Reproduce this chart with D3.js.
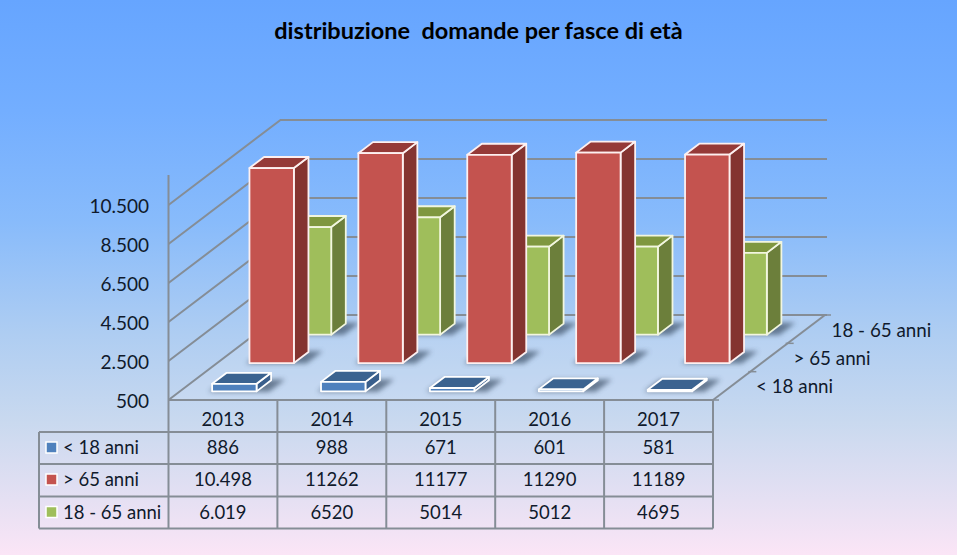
<!DOCTYPE html>
<html><head><meta charset="utf-8">
<script src="https://cdn.jsdelivr.net/npm/d3@7"></script>
<style>html,body{margin:0;padding:0;background:#fff}svg{display:block}text{font-family:Lato,"Open Sans",sans-serif;fill:#101a2c}</style>
</head><body><div id="c"></div>
<script>
const years = ["2013","2014","2015","2016","2017"];
const seriesNames = ["< 18 anni","> 65 anni","18 - 65 anni"];
const under18 = [886,988,671,601,581];
const over65 = [10498,11262,11177,11290,11189];
const adults = [6019,6520,5014,5012,4695];
const under18Labels = ["886","988","671","601","581"];
const over65Labels = ["10.498","11262","11177","11290","11189"];
const adultsLabels = ["6.019","6520","5014","5012","4695"];
const yTicks = [500,2500,4500,6500,8500,10500];
const faceColors = ["#4f81bd","#c4534f","#9fbe5b"];
const topColors = ["#3b6390","#953a38","#7f973f"];
const sideColors = ["#3a5f8c","#843430","#6c7f3b"];

const W=957,H=555;
const svg=d3.select("#c").append("svg").attr("width",W).attr("height",H);
const defs=svg.append("defs");
const g=defs.append("linearGradient").attr("id","bg").attr("x1",0).attr("y1",0).attr("x2",0).attr("y2",1);
[[0,"#66a5ff"],[.2,"#73aeff"],[.4,"#88bbfb"],[.6,"#aecdf2"],[.76,"#c9d9ef"],[.9,"#e5e0f3"],[1,"#fbe5f6"]]
  .forEach(d=>g.append("stop").attr("offset",d[0]).attr("stop-color",d[1]));
defs.append("filter").attr("id","blur").attr("x","-30%").attr("y","-60%").attr("width","160%").attr("height","220%")
  .append("feGaussianBlur").attr("stdDeviation",2.5);
svg.append("rect").attr("width",W).attr("height",H).attr("fill","url(#bg)");

const left=168.5,right=713,floorY=400,dx=112,dy=85;
const x=d3.scaleBand().domain(years).range([left,right]).paddingInner(.592).paddingOuter(.296);
const z=d3.scaleBand().domain(seriesNames).range([0,1]).paddingInner(.61).paddingOuter(.305);
const y=d3.scaleLinear().domain([500,10500]).range([floorY,205]);
const P=(px,v,zf)=>[px+zf*dx,y(v)-zf*dy];
const poly=pts=>pts.map(p=>p.join(",")).join(" ");
const gridC="#858d96";

svg.append("text").attr("x",478.5).attr("y",39).attr("text-anchor","middle")
  .attr("font-size",23.5).attr("font-weight",700).style("fill","#000").attr("xml:space","preserve")
  .text("distribuzione  domande per fasce di età");

// floor
svg.append("polygon").attr("points",poly([P(left,500,0),P(left,500,1),P(right,500,1),P(right,500,0)]))
  .attr("fill","#dbe8f6").attr("opacity",.2);
// gridlines
const grid=svg.append("g").attr("stroke",gridC).attr("stroke-width",2).attr("fill","none");
yTicks.forEach(t=>{
  grid.append("polyline").attr("points",poly([P(left,t,0),P(left,t,1),P(right+2,t,1)]));
});
grid.append("line").attr("x1",left).attr("x2",left).attr("y1",floorY).attr("y2",175);
grid.append("line").attr("x1",right).attr("y1",floorY).attr("x2",right+dx).attr("y2",floorY-dy);
d3.range(0,4).forEach(i=>{const p=P(right,500,i/3);
  grid.append("line").attr("x1",p[0]-2).attr("x2",p[0]+6).attr("y1",p[1]).attr("y2",p[1]).attr("stroke-width",1.5);});

// y axis
const yAxis=d3.axisLeft(y).tickValues(yTicks).tickSize(0).tickPadding(0)
  .tickFormat(d=>d3.format(",")(d).replace(/,/g,"."));
const ya=svg.append("g").attr("transform","translate(149,1)").call(yAxis);
ya.select(".domain").remove();
ya.selectAll("text").attr("font-size",19).style("font-family",'Lato,"Open Sans",sans-serif').style("fill","#101a2c");

// bars, back to front
const data=[under18,over65,adults];
[2,1,0].forEach(si=>{
  const name=seriesNames[si], z0=z(name), z1=z0+z.bandwidth();
  const s=svg.append("g");
  years.forEach(yr=>{
    const a=x(yr)-3,b=x(yr)+x.bandwidth()+13;
    s.append("polygon").attr("points",poly([P(a,500,z0-.005),P(a,500,z1+.01),P(b,500,z1+.01),P(b,500,z0-.005)]))
     .attr("fill","#3f526b").attr("opacity",.7).attr("filter","url(#blur)");
  });
  years.forEach((yr,i)=>{
    const a=x(yr),b=a+x.bandwidth(),v=data[si][i];
    const st=si==1?"#fdf0f0":(si==2?"#f2f6df":"#ffffff");
    const fg=s.append("g").attr("stroke",st).attr("stroke-width",1.8).attr("stroke-linejoin","round");
    fg.append("polygon").attr("points",poly([P(b,500,z0),P(b,500,z1),P(b,v,z1),P(b,v,z0)])).attr("fill",sideColors[si]);
    fg.append("polygon").attr("points",poly([P(a,v,z0),P(a,v,z1),P(b,v,z1),P(b,v,z0)])).attr("fill",topColors[si]);
    fg.append("polygon").attr("points",poly([P(a,500,z0),P(a,v,z0),P(b,v,z0),P(b,500,z0)])).attr("fill",faceColors[si]);
  });
});

// series labels
const labelX=[756,793.5,831.5],labelY=[393,365,337];
seriesNames.forEach((n,i)=>svg.append("text").attr("x",labelX[i]).attr("y",labelY[i]).attr("font-size",18.8).text(n));

// data table
const rowY=[400,432,464,496.5,528.5], tableLeft=39;
const step=x.step();
const colX=d=>left+years.indexOf(d)*step;
const t=svg.append("g").attr("stroke",gridC).attr("stroke-width",2).attr("fill","none");
rowY.forEach((ry,i)=>t.append("line").attr("x1",i==0?left:tableLeft).attr("x2",right).attr("y1",ry).attr("y2",ry));
years.concat("end").forEach((d,i)=>{const cx=left+i*step;
  t.append("line").attr("x1",cx).attr("x2",cx).attr("y1",rowY[0]).attr("y2",rowY[4]);});
t.append("line").attr("x1",tableLeft).attr("x2",tableLeft).attr("y1",rowY[1]).attr("y2",rowY[4]);
const tableLabels=[under18Labels,over65Labels,adultsLabels];
years.forEach((yr,i)=>{
  svg.append("text").attr("x",colX(yr)+step/2).attr("y",426).attr("text-anchor","middle").attr("font-size",18.5).text(yr);
  tableLabels.forEach((row,r)=>svg.append("text").attr("x",colX(yr)+step/2).attr("y",rowY[r+1]+22)
     .attr("text-anchor","middle").attr("font-size",18.5).text(row[i]));
});
seriesNames.forEach((n,r)=>{
  svg.append("rect").attr("x",46).attr("y",rowY[r+1]+10).attr("width",11).attr("height",11)
    .attr("fill",faceColors[r]).attr("stroke","#fff").attr("stroke-width",1.5);
  svg.append("text").attr("x",63).attr("y",rowY[r+1]+22).attr("font-size",18.5).text(n);
});
</script></body></html>
